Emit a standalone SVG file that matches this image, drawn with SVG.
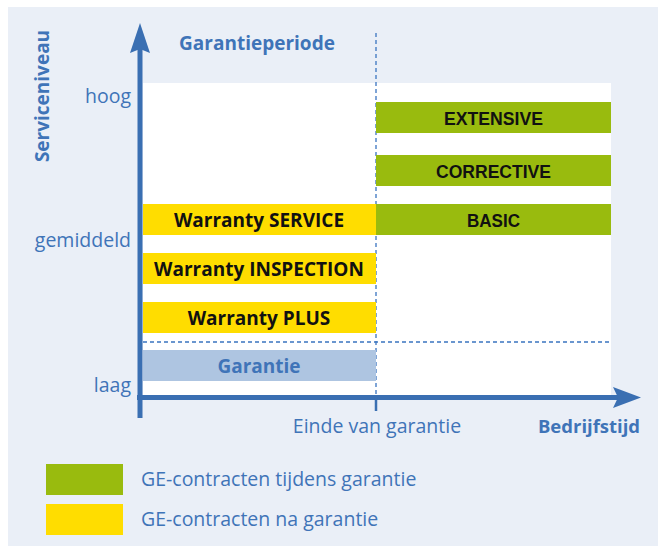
<svg xmlns="http://www.w3.org/2000/svg" width="658" height="546" viewBox="0 0 658 546">
<defs>
<style>
.lbl{font-family:"Open Sans","Liberation Sans",sans-serif;fill:#3f74b8;font-size:19.5px}
.bold{font-weight:bold;font-size:19px}
.bar{font-family:"Open Sans","Liberation Sans",sans-serif;font-weight:bold;font-size:19px;fill:#111;text-anchor:middle}
.barg{font-family:"Liberation Sans",Arial,sans-serif;font-weight:bold;font-size:19px;fill:#111;text-anchor:middle}
.axis{stroke:#3a6fb2;stroke-width:5;fill:none}
.dash{stroke:#3a74c0;stroke-width:1.3;stroke-dasharray:4 3;fill:none}
.y{fill:#ffdd00}
.g{fill:#99bb0e}
</style>
</defs>
<rect x="8" y="7" width="650" height="539" fill="#eaeff7"/>
<rect x="143" y="83" width="468" height="314" fill="#ffffff"/>

<g id="connectors">
<line class="dash" x1="376" y1="33" x2="376" y2="397"/>
<line class="dash" x1="143" y1="342" x2="612" y2="342"/>
<line class="axis" x1="140" y1="418" x2="140" y2="48"/>
<polygon points="140,23 150,53 140,49 130,53" fill="#3a6fb2"/>
<line class="axis" x1="137" y1="397.5" x2="620" y2="397.5"/>
<polygon points="641,397.5 613,387 618,397.5 613,408" fill="#3a6fb2"/>
<line x1="376" y1="397" x2="376" y2="411" stroke="#3a6fb2" stroke-width="2.5"/>
</g>

<text class="lbl bold" transform="translate(49,96) rotate(-90)" text-anchor="middle">Serviceniveau</text>
<text class="lbl bold" x="257" y="50" text-anchor="middle">Garantieperiode</text>
<text class="lbl" x="131" y="103" text-anchor="end">hoog</text>
<text class="lbl" x="131" y="247" text-anchor="end">gemiddeld</text>
<text class="lbl" x="131" y="392" text-anchor="end">laag</text>
<text class="lbl" x="377" y="433" text-anchor="middle">Einde van garantie</text>
<text class="lbl bold" x="589" y="433" text-anchor="middle" style="font-size:18.5px">Bedrijfstijd</text>

<g id="extensive"><rect class="g" x="376" y="102" width="235" height="31"/><text class="barg" x="493.5" y="125" textLength="99" lengthAdjust="spacingAndGlyphs">EXTENSIVE</text></g>
<g id="corrective"><rect class="g" x="376" y="155" width="235" height="31"/><text class="barg" x="493.5" y="178" textLength="115" lengthAdjust="spacingAndGlyphs">CORRECTIVE</text></g>
<g id="basic"><rect class="g" x="376" y="204" width="235" height="31"/><text class="barg" x="493.5" y="227" textLength="53" lengthAdjust="spacingAndGlyphs">BASIC</text></g>
<g id="warranty-service"><rect class="y" x="143" y="204" width="233" height="31"/><text class="bar" x="259" y="227">Warranty SERVICE</text></g>
<g id="warranty-inspection"><rect class="y" x="143" y="253" width="233" height="31"/><text class="bar" x="259" y="276">Warranty INSPECTION</text></g>
<g id="warranty-plus"><rect class="y" x="143" y="302" width="233" height="31"/><text class="bar" x="259" y="325">Warranty PLUS</text></g>
<g id="garantie"><rect fill="#aec5e1" x="143" y="350" width="233" height="31"/><text class="bar" x="259" y="373" style="fill:#3f74b8">Garantie</text></g>

<g id="legend">
<rect class="g" x="46" y="464" width="77" height="31"/>
<text class="lbl" x="141" y="486">GE-contracten tijdens garantie</text>
<rect class="y" x="46" y="504" width="77" height="31"/>
<text class="lbl" x="141" y="526">GE-contracten na garantie</text>
</g>
</svg>
